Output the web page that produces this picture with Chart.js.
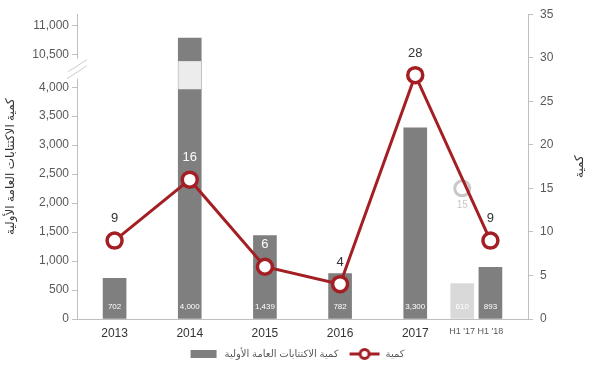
<!DOCTYPE html>
<html>
<head>
<meta charset="utf-8">
<script src="https://cdn.jsdelivr.net/npm/chart.js@4"></script>
<style>
  html, body { margin: 0; padding: 0; background: #fff; }
  #wrap { width: 592px; height: 384px; position: relative; }
</style>
</head>
<body>
<div id="wrap"><canvas id="chart"></canvas></div>
<script>
// data
const categories = ['2013', '2014', '2015', '2016', '2017', "H1 '17", "H1 '18"];
const ipoVolume = [702, 10780, 1439, 782, 3300, 610, 893]; // 2014 bar runs through the axis break
const ipoLabels = ['702', '4,000', '1,439', '782', '3,300', '610', '893'];
const ipoCount = [9, 16, 6, 4, 28, null, 9];
const h1PrevCount = [null, null, null, null, null, 15, null];
const leftTicks = [0, 500, 1000, 1500, 2000, 2500, 3000, 3500, 4000, 10500, 11000];
const rightMax = 35;
const leftTitle = 'كمية الاكتتابات العامة الأولية';
const rightTitle = 'كمية';

// layout: categories sit on a fine grid so the half-year columns can sit closer together
const slotCount = 49;
const slotOf = [4, 12, 20, 28, 36, 41, 44];

// broken left axis: 4,000 .. 10,500 squeezed into a small gap
const breakFrom = 4000, breakTo = 10500, breakGap = 569;
const leftMax = 5260;
const comp = v => v == null ? null : (v >= breakTo ? v - (breakTo - breakFrom - breakGap) : v);

const barColors = ['#7f7f7f', '#7f7f7f', '#7f7f7f', '#7f7f7f', '#7f7f7f', '#d9d9d9', '#7f7f7f'];
const countLabelColors = ['#333', '#fff', '#fff', '#333', '#333', null, '#333'];
const red = '#a31f24';
const FONT = 'Arial, "Liberation Sans", "DejaVu Sans", sans-serif';

function spread(arr, fill = null) {
    const out = Array(slotCount).fill(fill);
    arr.forEach((v, i) => { out[slotOf[i]] = v; });
    return out;
}

Chart.defaults.font.family = FONT;
Chart.defaults.color = '#595959';

// legend swatches
const barSwatch = document.createElement('canvas');
barSwatch.width = 30; barSwatch.height = 8;
(c => { c.fillStyle = '#7f7f7f'; c.fillRect(2, 0, 26, 8); })(barSwatch.getContext('2d'));
const lineSwatch = document.createElement('canvas');
lineSwatch.width = 32; lineSwatch.height = 14;
(c => {
    c.strokeStyle = red; c.lineWidth = 3;
    c.beginPath(); c.moveTo(1, 7); c.lineTo(31, 7); c.stroke();
    c.fillStyle = '#fff'; c.lineWidth = 3;
    c.beginPath(); c.arc(16, 7, 4.5, 0, Math.PI * 2); c.fill(); c.stroke();
})(lineSwatch.getContext('2d'));

const valueLabels = {
    id: 'valueLabels',
    afterDatasetsDraw(chart) {
        const ctx = chart.ctx;
        const y = chart.scales.y;
        // light band across the broken 2014 bar
        const bars = chart.getDatasetMeta(2).data;
        const b = bars[slotOf[1]];
        ctx.save();
        ctx.fillStyle = '#ececec';
        const top = y.getPixelForValue(4450), bot = y.getPixelForValue(3965);
        ctx.fillRect(b.x - b.width / 2, top, b.width, bot - top);

        // bar values
        ctx.fillStyle = '#fff';
        ctx.font = '8px ' + FONT;
        ctx.textAlign = 'center';
        ctx.textBaseline = 'middle';
        ipoLabels.forEach((t, i) => {
            const el = bars[slotOf[i]];
            ctx.fillText(t, el.x, y.bottom - 12);
        });

        // counts above the line points
        const pts = chart.getDatasetMeta(0).data;
        ctx.font = '13px ' + FONT;
        ipoCount.forEach((v, i) => {
            if (v == null) return;
            const p = pts[slotOf[i]];
            ctx.fillStyle = countLabelColors[i];
            ctx.fillText(String(v), p.x, p.y - 22);
        });
        const gp = chart.getDatasetMeta(1).data;
        ctx.font = '10px ' + FONT;
        ctx.fillStyle = '#c8c8c8';
        h1PrevCount.forEach((v, i) => {
            if (v == null) return;
            const p = gp[slotOf[i]];
            ctx.fillText(String(v), p.x, p.y + 17);
        });
        ctx.restore();
    },
    afterDraw(chart) {
        const ctx = chart.ctx;
        const y = chart.scales.y;
        const ax = y.right;
        const mid = (y.getPixelForValue(breakFrom) + y.getPixelForValue(comp(breakTo))) / 2;
        ctx.save();
        ctx.fillStyle = '#fff';
        ctx.fillRect(ax - 3, mid - 12, 6, 20);
        ctx.strokeStyle = '#cccccc';
        ctx.lineWidth = 1;
        ctx.beginPath();
        ctx.moveTo(ax - 9, mid + 1); ctx.lineTo(ax + 10, mid - 11);
        ctx.moveTo(ax - 10, mid + 8); ctx.lineTo(ax + 10, mid - 5);
        ctx.stroke();

        // right axis title, read bottom to top like the left one
        const r = chart.scales.y1;
        ctx.translate(r.right - 12, (r.top + r.bottom) / 2);
        ctx.rotate(-Math.PI / 2);
        ctx.fillStyle = '#333';
        ctx.font = '12px ' + FONT;
        ctx.textAlign = 'center';
        ctx.textBaseline = 'middle';
        ctx.fillText(rightTitle, 0, 0);
        ctx.restore();
    }
};

new Chart(document.getElementById('chart'), {
    data: {
        labels: spread(categories, ''),
        datasets: [
            {
                type: 'line',
                label: rightTitle,
                data: spread(ipoCount),
                yAxisID: 'y1',
                borderColor: red,
                borderWidth: 3,
                pointRadius: 7.5,
                pointBorderWidth: 3.5,
                pointBackgroundColor: '#fff',
                pointBorderColor: red,
                spanGaps: true,
                order: 0
            },
            {
                type: 'line',
                label: 'H1 prev',
                data: spread(h1PrevCount),
                yAxisID: 'y1',
                showLine: false,
                pointRadius: 7.5,
                pointBorderWidth: 3,
                pointBackgroundColor: '#fff',
                pointBorderColor: '#c8c8c8',
                order: 0
            },
            {
                type: 'bar',
                label: leftTitle,
                data: spread(ipoVolume.map(comp)),
                backgroundColor: spread(barColors),
                barThickness: 23,
                yAxisID: 'y',
                order: 1
            }
        ]
    },
    options: {
        responsive: true,
        maintainAspectRatio: false,
        animation: false,
        layout: { padding: { top: 13, left: 0, right: 0, bottom: 15 } },
        plugins: {
            tooltip: { enabled: false },
            legend: {
                position: 'bottom',
                labels: {
                    usePointStyle: true,
                    pointStyleWidth: 32,
                    boxHeight: 10,
                    padding: 10,
                    color: '#595959',
                    font: { size: 10 },
                    generateLabels: () => [
                        { text: leftTitle, pointStyle: barSwatch, lineWidth: 0, datasetIndex: 2, fontColor: '#595959' },
                        { text: rightTitle, pointStyle: lineSwatch, lineWidth: 0, datasetIndex: 0, fontColor: '#595959' }
                    ]
                }
            }
        },
        scales: {
            x: {
                type: 'category',
                offset: false,
                grid: { drawOnChartArea: false, drawTicks: false },
                border: { color: '#bfbfbf' },
                ticks: {
                    autoSkip: false,
                    maxRotation: 0,
                    padding: 7,
                    color: c => String(c.tick && c.tick.label).startsWith('H1') ? '#595959' : '#333',
                    font: c => ({ size: String(c.tick && c.tick.label).startsWith('H1') ? 9 : 12 })
                },
                afterFit: s => { s.height = 20; }
            },
            y: {
                position: 'left',
                min: 0,
                max: leftMax,
                afterBuildTicks: s => { s.ticks = leftTicks.map(v => ({ value: comp(v) })); },
                ticks: {
                    callback: (v, i) => leftTicks[i].toLocaleString('en-US'),
                    font: { size: 12 },
                    padding: 3
                },
                grid: { drawOnChartArea: false, tickLength: 5, color: '#bfbfbf' },
                border: { color: '#bfbfbf' },
                title: { display: true, text: leftTitle, color: '#333', font: { size: 12 }, padding: { top: 3, bottom: 0 } },
                afterFit: s => { s.width = 77; }
            },
            y1: {
                position: 'right',
                min: 0,
                max: rightMax,
                ticks: { stepSize: 5, font: { size: 12 }, padding: 7 },
                grid: { drawOnChartArea: false, tickLength: 5, color: '#bfbfbf' },
                border: { color: '#bfbfbf' },
                afterFit: s => { s.width = 64; }
            }
        }
    },
    plugins: [valueLabels]
});
</script>
</body>
</html>
